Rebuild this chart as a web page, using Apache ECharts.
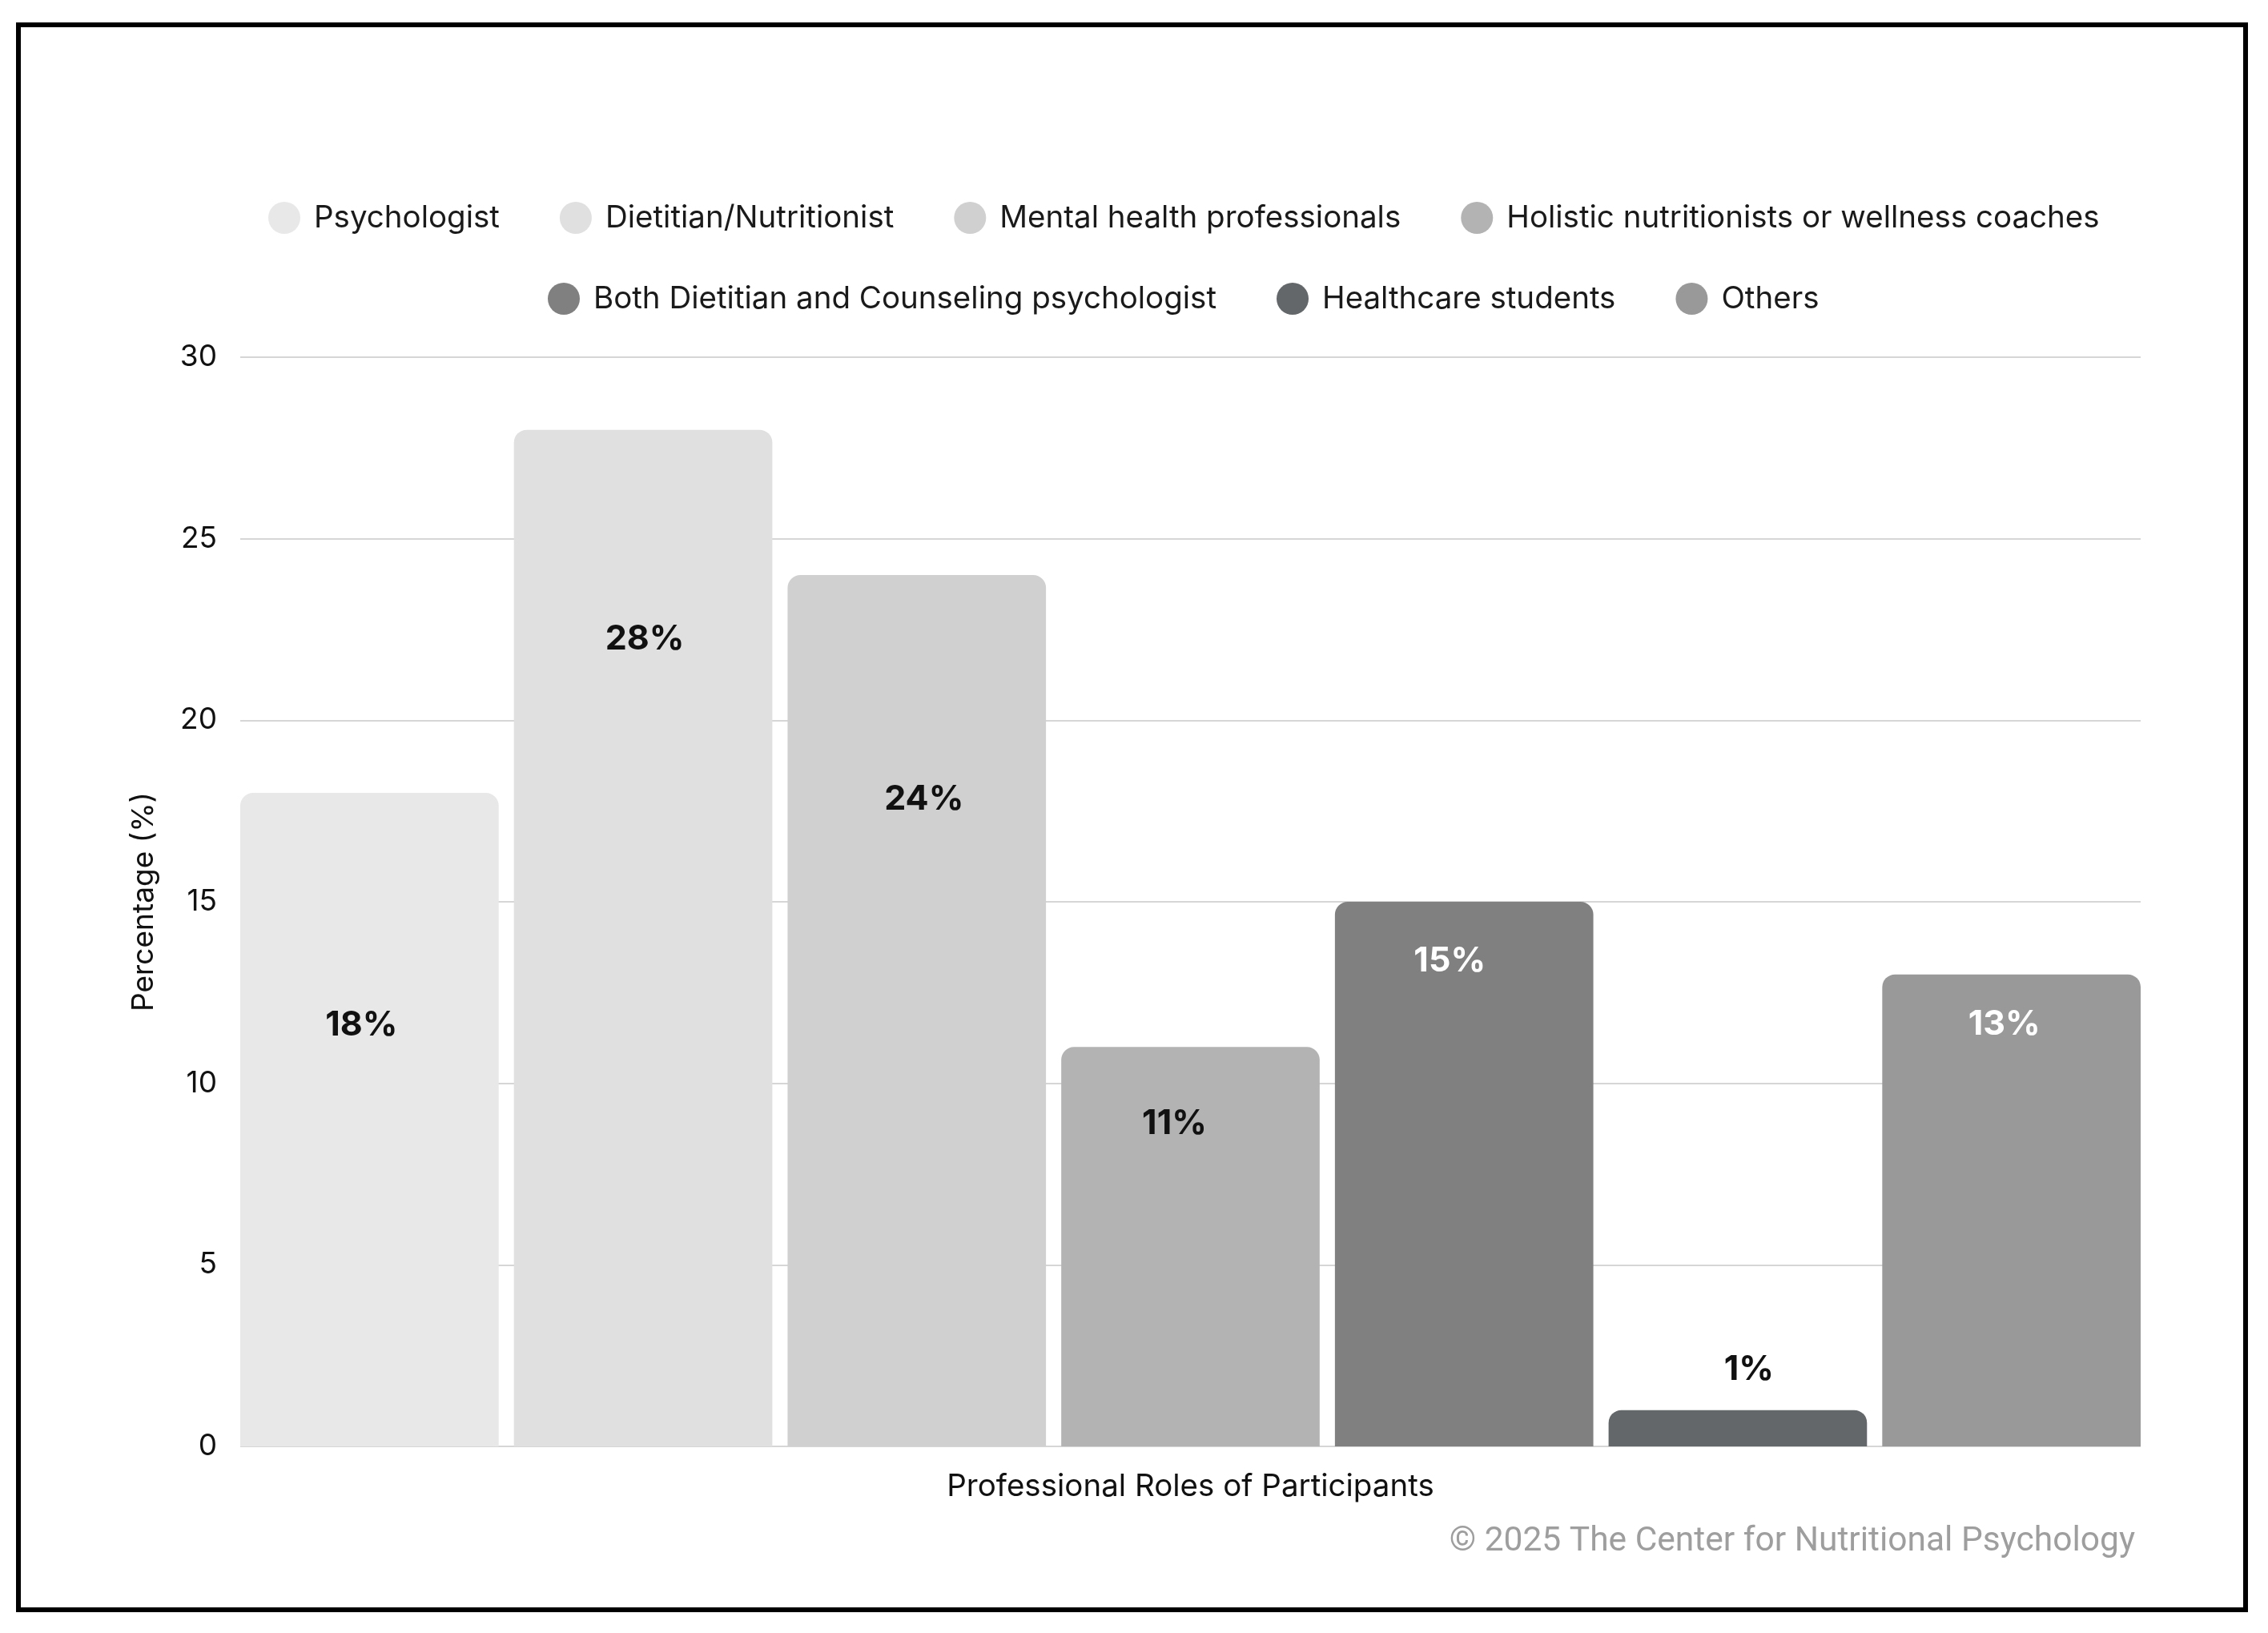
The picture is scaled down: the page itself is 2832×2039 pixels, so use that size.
<!DOCTYPE html>
<html>
<head>
<meta charset="utf-8">
<script src="https://cdn.jsdelivr.net/npm/echarts@6/dist/echarts.min.js"></script>
<style>
  html, body { margin: 0; padding: 0; background: #ffffff; }
  #chart { width: 2832px; height: 2039px; }
</style>
</head>
<body>
<div id="chart"></div>
<script>
// ---- Data ----
var roles = [
  'Psychologist',
  'Dietitian/Nutritionist',
  'Mental health professionals',
  'Holistic nutritionists or wellness coaches',
  'Both Dietitian and Counseling psychologist',
  'Healthcare students',
  'Others'
];
var percentages = [18, 28, 24, 11, 15, 1, 13];
var yTicks = [0, 5, 10, 15, 20, 25, 30];
var xAxisTitle = 'Professional Roles of Participants';
var yAxisTitle = 'Percentage (%)';
var credit = '\u00A9 2025 The Center for Nutritional Psychology';

// ---- Styles ----
var barColors = ['#e8e8e8', '#e0e0e0', '#d0d0d0', '#b3b3b3', '#808080', '#63676a', '#999999'];
var labelColors = ['#111111', '#111111', '#111111', '#111111', '#ffffff', '#111111', '#ffffff'];
var labelOffsetY = [290, 261, 280, 96, 74, -51, 62];
var labelOffsetX = [-10, 2, 9, -20, -18, 14, -9];
var FONT = 'Inter, "Noto Sans", sans-serif';

var series = roles.map(function (name, i) {
  return {
    name: name,
    type: 'bar',
    data: [percentages[i]],
    barGap: '5.9%',
    barCategoryGap: '0%',
    itemStyle: { color: barColors[i], borderRadius: [16, 16, 0, 0] },
    label: {
      show: true,
      position: ['50%', labelOffsetY[i]],
      offset: [labelOffsetX[i], 0],
      align: 'center',
      verticalAlign: 'middle',
      formatter: function (p) { return p.value + '%'; },
      color: labelColors[i],
      fontFamily: FONT,
      fontWeight: 'bold',
      fontSize: 43
    },
    emphasis: { disabled: true }
  };
});

var legendCommon = {
  icon: 'circle',
  itemWidth: 40,
  itemHeight: 40,
  itemGap: 75,
  textStyle: { fontFamily: FONT, fontSize: 38.5, color: '#1a1a1a', padding: [0, 0, 0, 12] },
  selectedMode: false
};

var option = {
  backgroundColor: '#ffffff',
  animation: false,
  color: barColors,
  legend: [
    Object.assign({}, legendCommon, { data: roles.slice(0, 4), top: 247, left: 330 }),
    Object.assign({}, legendCommon, { data: roles.slice(4), top: 348, left: 679 })
  ],
  grid: { left: 300, right: 159, top: 446, bottom: 233, containLabel: false },
  xAxis: {
    type: 'category',
    data: [''],
    name: xAxisTitle,
    nameLocation: 'middle',
    nameGap: 31,
    nameTextStyle: { fontFamily: FONT, fontSize: 38.5, color: '#111111' },
    axisLine: { show: false },
    axisTick: { show: false },
    axisLabel: { show: false }
  },
  yAxis: {
    type: 'value',
    min: yTicks[0],
    max: yTicks[yTicks.length - 1],
    interval: yTicks[1] - yTicks[0],
    name: yAxisTitle,
    nameLocation: 'middle',
    nameGap: 102,
    nameRotate: 90,
    nameTextStyle: { fontFamily: FONT, fontSize: 37, color: '#111111' },
    axisLine: { show: false },
    axisTick: { show: false },
    axisLabel: { fontFamily: FONT, fontSize: 37, color: '#111111', margin: 29 },
    splitLine: { lineStyle: { color: '#d6d6d6', width: 2 } }
  },
  graphic: [
    {
      type: 'rect',
      shape: { x: 23, y: 31, width: 2781, height: 1979 },
      style: { fill: 'none', stroke: '#000000', lineWidth: 6 },
      silent: true
    },
    {
      type: 'text',
      right: 2832 - 2666,
      top: 1922 - 18,
      style: {
        text: credit,
        fontFamily: 'Roboto, sans-serif',
        fontSize: 42.5,
        fill: '#9e9e9e'
      },
      silent: true
    }
  ],
  series: series
};

var chart = echarts.init(document.getElementById('chart'), null, { renderer: 'canvas' });
chart.setOption(option);
</script>
</body>
</html>
